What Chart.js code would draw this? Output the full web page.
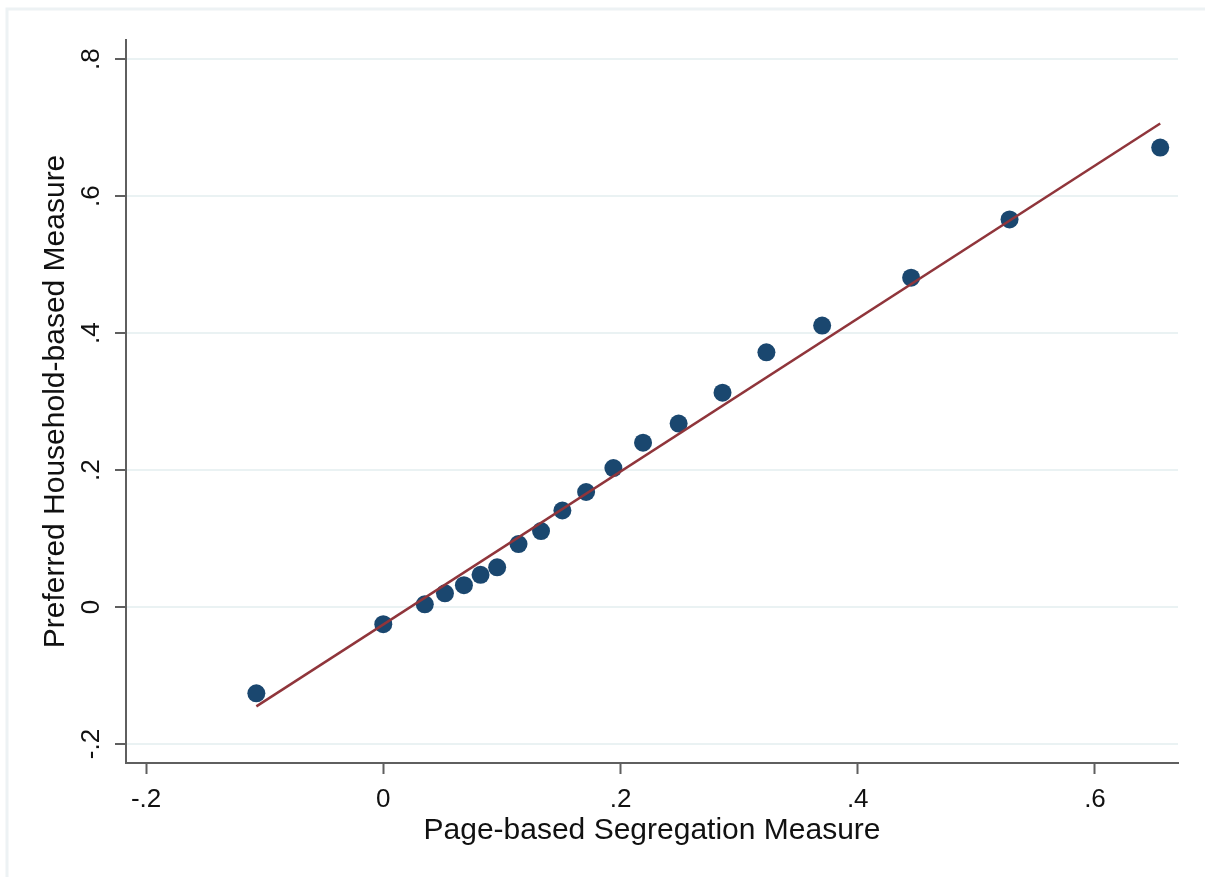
<!DOCTYPE html>
<html>
<head>
<meta charset="utf-8">
<script src="https://cdn.jsdelivr.net/npm/chart.js@4.4.0/dist/chart.umd.min.js"></script>
<style>
  html, body { margin: 0; padding: 0; background: #ffffff; }
  #wrap { width: 1205px; height: 877px; }
</style>
</head>
<body>
<div id="wrap"><canvas id="c" width="1205" height="877"></canvas></div>
<script>
// ---- data ----
const pageX = [-0.107, 0.000, 0.035, 0.052, 0.068, 0.082, 0.096, 0.114, 0.133, 0.151,
               0.171, 0.194, 0.219, 0.249, 0.286, 0.323, 0.370, 0.445, 0.528, 0.655];
const householdY = [-0.126, -0.025, 0.004, 0.020, 0.032, 0.047, 0.058, 0.092, 0.111, 0.141,
                    0.168, 0.203, 0.240, 0.268, 0.313, 0.372, 0.411, 0.481, 0.566, 0.671];
const fitX = [-0.107, 0.655];
const fitY = [-0.145, 0.706];
const xTickValues = [-0.2, 0, 0.2, 0.4, 0.6];
const xTickLabels = ['-.2', '0', '.2', '.4', '.6'];
const yTickValues = [-0.2, 0, 0.2, 0.4, 0.6, 0.8];
const yTickLabels = ['-.2', '0', '.2', '.4', '.6', '.8'];
const xTitle = 'Page-based Segregation Measure';
const yTitle = 'Preferred Household-based Measure';

const FONT = '"Liberation Sans", Arial, sans-serif';
const AXIS = '#5f5f5f';
const GRID = '#eaf2f3';

const framePlugin = {
  id: 'frame',
  beforeDraw(chart) {
    const ctx = chart.ctx;
    ctx.save();
    ctx.fillStyle = '#ffffff';
    ctx.fillRect(0, 0, chart.width, chart.height);
    ctx.strokeStyle = '#edf2f4';
    ctx.lineWidth = 3;
    ctx.beginPath();
    ctx.moveTo(7, chart.height);
    ctx.lineTo(7, 9);
    ctx.lineTo(chart.width, 9);
    ctx.stroke();
    ctx.restore();
  }
};

const yLabelPlugin = {
  id: 'yLabels',
  afterDraw(chart) {
    const ctx = chart.ctx;
    const y = chart.scales.y;
    ctx.save();
    ctx.fillStyle = '#111111';
    ctx.font = '26px ' + FONT;
    ctx.textAlign = 'center';
    ctx.textBaseline = 'middle';
    yTickValues.forEach((v, i) => {
      const py = y.getPixelForValue(v);
      ctx.save();
      ctx.translate(92, py);
      ctx.rotate(-Math.PI / 2);
      ctx.fillText(yTickLabels[i], 0, 0);
      ctx.restore();
    });
    ctx.restore();
  }
};

new Chart(document.getElementById('c'), {
  type: 'scatter',
  data: {
    datasets: [
      {
        type: 'line',
        label: 'fit',
        data: fitX.map((x, i) => ({ x: x, y: fitY[i] })),
        borderColor: '#90353b',
        borderWidth: 2.5,
        pointRadius: 0,
        fill: false,
        tension: 0,
        order: 0
      },
      {
        label: 'bins',
        data: pageX.map((x, i) => ({ x: x, y: householdY[i] })),
        backgroundColor: '#1a476f',
        borderColor: '#1a476f',
        borderWidth: 0,
        pointRadius: 9,
        pointHoverRadius: 9,
        order: 1
      }
    ]
  },
  options: {
    responsive: false,
    animation: false,
    events: [],
    layout: { padding: { left: 0, top: 40, right: 27, bottom: 0 } },
    plugins: { legend: { display: false }, tooltip: { enabled: false } },
    scales: {
      x: {
        type: 'linear',
        min: -0.2169,
        max: 0.67,
        afterBuildTicks(s) { s.ticks = xTickValues.map(v => ({ value: v })); },
        afterFit(s) { s.height = 114; },
        ticks: {
          callback(v) { const i = xTickValues.findIndex(t => Math.abs(t - v) < 1e-9); return i >= 0 ? xTickLabels[i] : ''; },
          font: { family: FONT, size: 26 },
          color: '#111111',
          padding: 10,
          maxRotation: 0,
          minRotation: 0
        },
        grid: { drawOnChartArea: false, drawTicks: true, tickLength: 11, tickColor: AXIS, tickWidth: 2 },
        border: { display: true, color: AXIS, width: 2 },
        title: {
          display: true,
          text: xTitle,
          font: { family: FONT, size: 30 },
          color: '#111111',
          padding: { top: 0, bottom: 28 }
        }
      },
      y: {
        type: 'linear',
        min: -0.2277,
        max: 0.828,
        afterBuildTicks(s) { s.ticks = yTickValues.map(v => ({ value: v })); },
        afterFit(s) { s.width = 126; },
        ticks: { display: false },
        grid: { drawOnChartArea: true, color: GRID, lineWidth: 2, drawTicks: true, tickLength: 11, tickColor: AXIS, tickWidth: 2 },
        border: { display: true, color: AXIS, width: 2 },
        title: {
          display: true,
          text: yTitle,
          font: { family: FONT, size: 30 },
          color: '#111111',
          padding: { top: 38, bottom: 0 }
        }
      }
    }
  },
  plugins: [framePlugin, yLabelPlugin]
});
</script>
</body>
</html>
